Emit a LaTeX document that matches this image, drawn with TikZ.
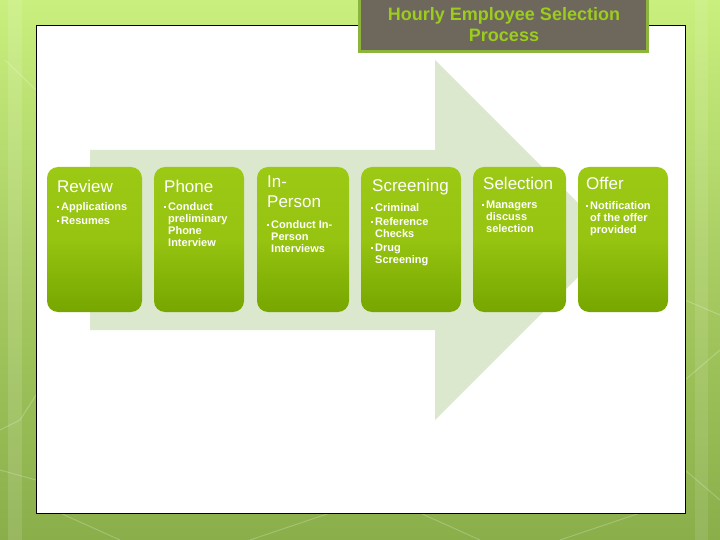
\documentclass[tikz,border=0pt]{standalone}
\usepackage{fontspec}
\setmainfont{Liberation Sans}
\usetikzlibrary{positioning}

\definecolor{bgtop}{HTML}{C9EF7E}
\definecolor{bgmid}{HTML}{A8CC62}
\definecolor{bgbot}{HTML}{8AAE4A}
\definecolor{arrowfill}{HTML}{DCE8CE}
\definecolor{stagetop}{HTML}{9CC914}
\definecolor{stagebot}{HTML}{76A600}
\definecolor{titlefill}{HTML}{6E675B}
\definecolor{titleline}{HTML}{8DB43C}
\definecolor{titletext}{HTML}{9BCC1E}

\tikzset{
	stage/.style={rectangle,rounded corners=11pt,top color=stagetop,bottom color=stagebot,middle color=stagetop!85!stagebot,inner sep=0pt},
	stagehead/.style={anchor=north west,inner sep=0pt,text=white,align=left,font=\fontsize{17}{20}\selectfont},
	stageitems/.style={anchor=north west,inner sep=0pt,text=white,align=left,font=\bfseries\fontsize{11}{12}\selectfont},
	texture/.style={white,opacity=0.22,line width=1pt}
}
\newcommand{\bul}{\makebox[4pt][l]{\rule[2.5pt]{2pt}{2pt}}}
\newcommand{\ind}{\hspace*{4pt}}

\begin{document}
\begin{tikzpicture}[x=1pt,y=-1pt]
	\useasboundingbox (0,0) rectangle (720,540);
	% slide background
	\shade[top color=bgtop,bottom color=bgbot,middle color=bgmid] (0,0) rectangle (720,540);
	\fill[white,opacity=0.12] (8,0) rectangle (22,540);
	\fill[white,opacity=0.10] (695,0) rectangle (708,540);
	\draw[texture] (0,430) -- (20,420) -- (36,395);
	\draw[texture] (0,470) -- (36,480);
	\draw[texture] (60,513) -- (120,540);
	\draw[texture] (250,540) -- (330,513);
	\draw[texture] (420,513) -- (480,540);
	\draw[texture] (560,540) -- (640,513);
	\draw[texture] (685,300) -- (720,315);
	\draw[texture] (685,380) -- (720,350);
	\draw[texture] (685,470) -- (720,500);
	\draw[texture] (5,60) -- (36,90);
	% white panel
	\node (panel) [draw=black,line width=1pt,fill=white,minimum width=649pt,minimum height=487pt,inner sep=0pt] at (360.5,269.5) {};
	% title
	\node (title) [draw=titleline,line width=3pt,fill=titlefill,minimum width=288pt,minimum height=58pt,inner sep=0pt] at (503.5,23) {};
	\node (titletxt) [text=titletext,align=center,font=\bfseries\fontsize{18}{21}\selectfont] at (504,25) {Hourly Employee Selection\\Process};
	% big arrow
	\fill[arrowfill] (90,150) -- (435,150) -- (435,60) -- (615,240) -- (435,420) -- (435,330) -- (90,330) -- cycle;
	% stages
	\node (s1) [stage,minimum width=95pt,minimum height=145pt] at (94.5,239.5) {};
	\node (s2) [stage,minimum width=90pt,minimum height=145pt] at (199,239.5) {};
	\node (s3) [stage,minimum width=92pt,minimum height=145pt] at (303,239.5) {};
	\node (s4) [stage,minimum width=100pt,minimum height=145pt] at (411,239.5) {};
	\node (s5) [stage,minimum width=93pt,minimum height=145pt] at (519.5,239.5) {};
	\node (s6) [stage,minimum width=90pt,minimum height=145pt] at (623,239.5) {};
	% stage texts
	\node (h1) [stagehead] at (57,180) {Review};
	\node (h2) [stagehead] at (164,180) {Phone};
	\node (h3) [stagehead] at (267,176) {In-\\Person};
	\node (h4) [stagehead] at (372,179) {Screening};
	\node (h5) [stagehead] at (483,177) {Selection};
	\node (h6) [stagehead] at (586,177) {Offer};
	\node (t1) [stageitems] at (57,202) {\bul Applications\\[2.5pt]\bul Resumes};
	\node (t2) [stageitems] at (164,202) {\bul Conduct\\\ind preliminary\\\ind Phone\\\ind Interview};
	\node (t3) [stageitems] at (267,220) {\bul Conduct In-\\\ind Person\\\ind Interviews};
	\node (t4) [stageitems] at (371,203) {\bul Criminal\\[2pt]\bul Reference\\\ind Checks\\[2pt]\bul Drug\\\ind Screening};
	\node (t5) [stageitems] at (482,201) {\bul Managers\\\ind discuss\\\ind selection};
	\node (t6) [stageitems] at (586,201) {\bul Notification\\\ind of the offer\\\ind provided};
\end{tikzpicture}
\end{document}
